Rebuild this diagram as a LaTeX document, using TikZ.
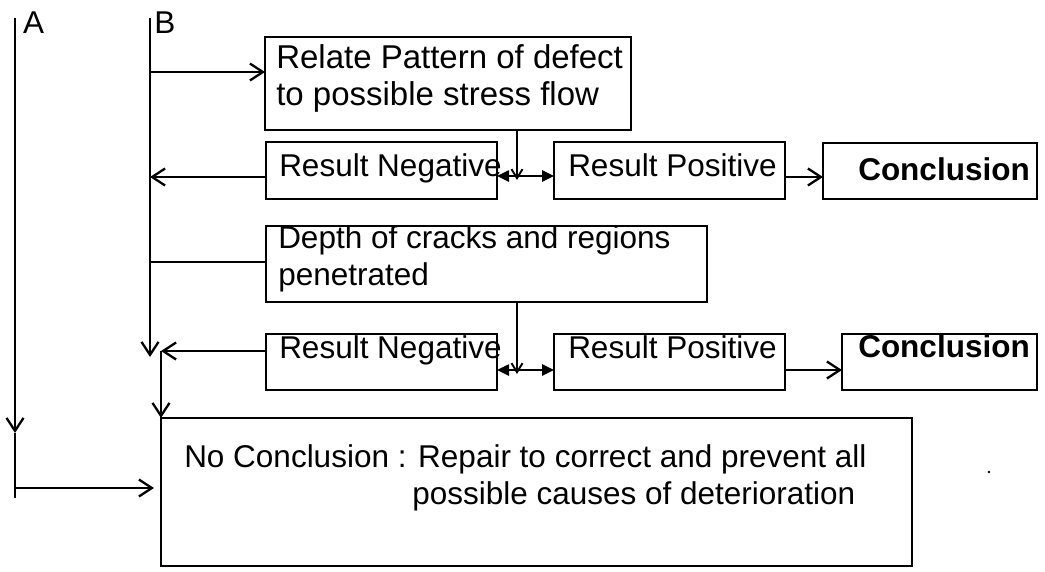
\documentclass[tikz,border=0pt]{standalone}
\usepackage{fontspec}
\setmainfont{Liberation Sans}
\usetikzlibrary{arrows.meta,calc}

\begin{document}
\begin{tikzpicture}[x=1pt,y=-1pt,
  line width=2.5pt,
  box/.style={draw, rectangle, inner sep=0pt, outer sep=0pt, anchor=north west},
  lbl/.style={anchor=base west, inner sep=0pt, align=left,
              font=\fontsize{31.5}{37}\selectfont},
  bold/.style={lbl, font=\fontsize{31.5}{37}\selectfont\bfseries},
  open/.style={-{Straight Barb[length=13pt,width=17pt,line width=2.3pt]}},
  tick/.style={-{Straight Barb[length=9pt,width=11pt,line width=1.9pt]}},
  solid head/.style={-{Triangle[length=12pt,width=11pt]}}
]
\useasboundingbox (0,0) rectangle (1045,571);

% boxes
\node[box, minimum width=366pt, minimum height=93pt]  (rel)  at (265,37)  {};
\node[box, minimum width=231pt, minimum height=57pt]  (neg1) at (266,142) {};
\node[box, minimum width=231pt, minimum height=57pt]  (pos1) at (554,142) {};
\node[box, minimum width=214pt, minimum height=56pt]  (con1) at (823,143) {};
\node[box, minimum width=441pt, minimum height=76pt]  (dep)  at (266,226) {};
\node[box, minimum width=231pt, minimum height=56pt]  (neg2) at (266,334) {};
\node[box, minimum width=231pt, minimum height=56pt]  (pos2) at (554,334) {};
\node[box, minimum width=195pt, minimum height=56pt]  (con2) at (842,334) {};
\node[box, minimum width=751pt, minimum height=148pt] (nc)   at (161,418) {};

% labels (multi-line labels are placed by the baseline of their last line)
\node[lbl] (la) at (22,33)  {A};
\node[lbl] (lb) at (153,33) {B};
\node[lbl, font=\fontsize{33}{37}\selectfont] (trel) at (275,105)
  {Relate Pattern of defect\\to possible stress flow};
\node[lbl] (tneg1) at (278,176) {Result Negative};
\node[lbl] (tpos1) at (567,176) {Result Positive};
\node[bold] (tcon1) at (857,180) {Conclusion};
\node[lbl] (tdep)  at (277,285) {Depth of cracks and regions\\penetrated};
\node[lbl] (tneg2) at (278,358) {Result Negative};
\node[lbl] (tpos2) at (567,358) {Result Positive};
\node[bold] (tcon2) at (857,357) {Conclusion};
\node[lbl] (tnc)   at (183,504) {No Conclusion : Repair to correct and prevent all\\
                                 \hspace*{228pt}possible causes of deterioration};

% stray mark
\fill (989,472) circle (1.3pt);

% route points
\coordinate (Atop) at (15,18);
\coordinate (Amid) at (15,433);
\coordinate (Aturn) at (15,488);
\coordinate (Abot) at (15,498);
\coordinate (Btop) at (150,18);
\coordinate (Bend) at (150,357);
\coordinate (b1) at (150,72);
\coordinate (b2) at (150,177);
\coordinate (b3) at (150,262);
\coordinate (j1) at (517,176);
\coordinate (j2) at (517,370);
\coordinate (k1) at (800,177);
\coordinate (k2) at (800,370);
\coordinate (m)  at (161,351);

% column A
\draw[open] (Atop) -- (Amid);
\draw (Amid) -- (Abot);
\draw[open, shorten >=7pt] (Aturn) -- (Aturn -| nc.west);

% column B
\draw[open] (Btop) -- (Bend);
\draw[open] (b1) -- (b1 -| rel.west);
\draw[open] (b2 -| neg1.west) -- (b2);
\draw (b3) -- (b3 -| dep.west);

% first test
\draw[tick] (j1 |- rel.south) -- ($(j1)+(0,4)$);
\draw[solid head] (j1) -- (j1 -| neg1.east);
\draw[solid head] (j1) -- (j1 -| pos1.west);
\draw[open] (k1 -| pos1.east) -- (k1 -| con1.west);

% second test
\draw[tick] (j2 |- dep.south) -- ($(j2)+(0,4)$);
\draw[solid head] (j2) -- (j2 -| neg2.east);
\draw[solid head] (j2) -- (j2 -| pos2.west);
\draw[open] (k2 -| pos2.east) -- (k2 -| con2.west);

% fallback to no conclusion
\draw[open] (m -| neg2.west) -- (m);
\draw[open] (m) -- (nc.north west);
\end{tikzpicture}
\end{document}
